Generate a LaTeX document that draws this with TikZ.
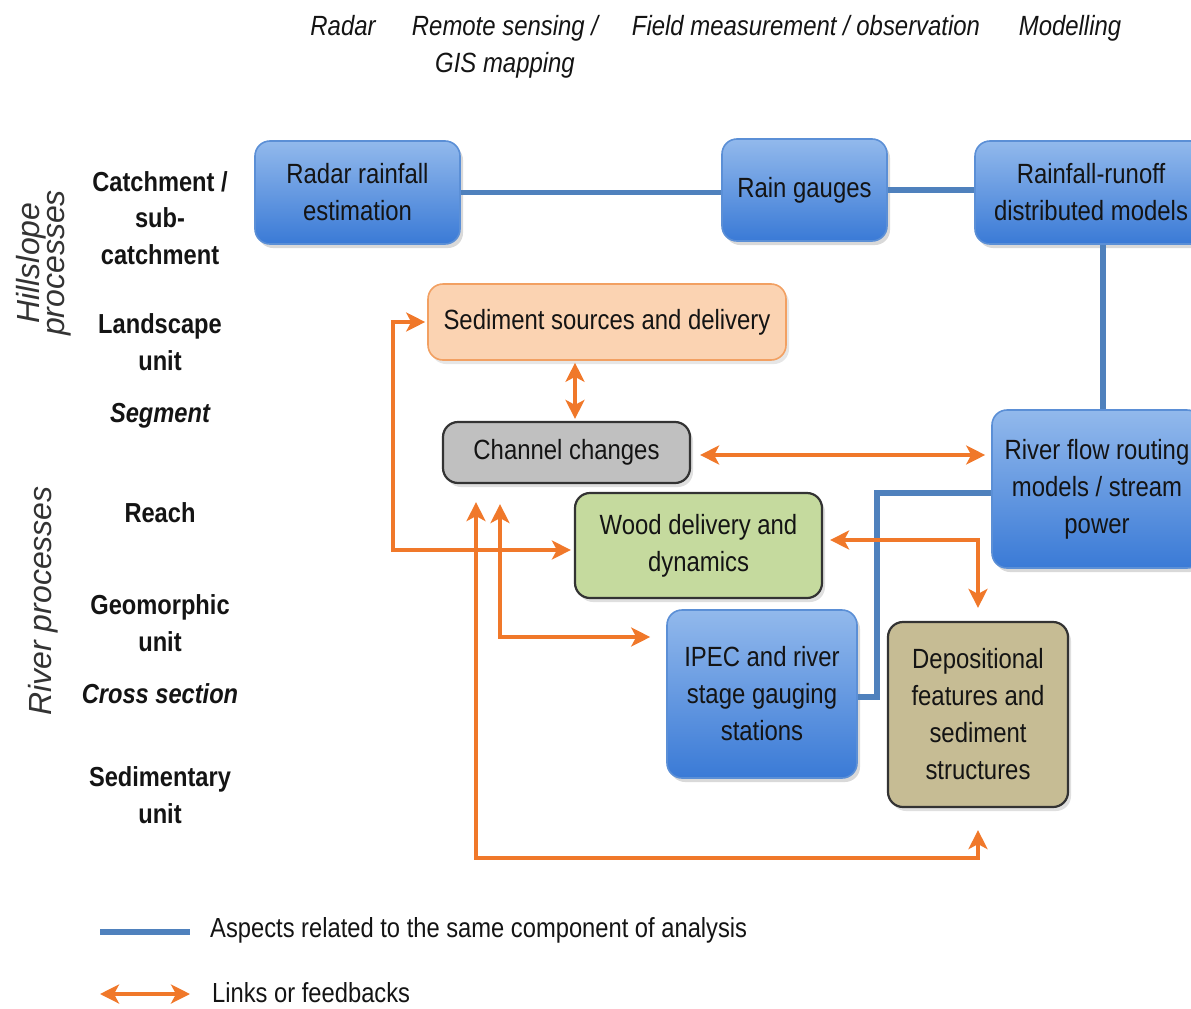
\documentclass[tikz,border=0pt]{standalone}
\usepackage{fontspec}
\setmainfont{Liberation Sans}[FakeStretch=0.86]
\newfontfamily\procfont{Liberation Sans}
\usetikzlibrary{arrows.meta,shadows}
\definecolor{bline}{HTML}{4F81BD}
\definecolor{oline}{HTML}{F0782A}
\definecolor{btop}{HTML}{92B9EC}
\definecolor{bbot}{HTML}{3A7AD6}
\definecolor{bdraw}{HTML}{5B8FD6}
\definecolor{sedfill}{HTML}{FBD3B2}
\definecolor{seddraw}{HTML}{F2A062}
\definecolor{chanfill}{HTML}{C0C0C0}
\definecolor{woodfill}{HTML}{C5DA9E}
\definecolor{depofill}{HTML}{C6BC94}
\definecolor{txt}{HTML}{141414}
\tikzset{
  boxtext/.style={align=center, font=\fontsize{27.8}{37}\selectfont, text=txt, rounded corners=15pt, line width=1.6pt},
  bluebox/.style={boxtext, draw=bdraw, top color=btop, bottom color=bbot,
     drop shadow={opacity=0.3, shadow xshift=3pt, shadow yshift=-4pt}},
  sedbox/.style={boxtext, draw=seddraw, fill=sedfill,
     drop shadow={opacity=0.2, shadow xshift=3pt, shadow yshift=-4pt}},
  darkbox/.style={boxtext, draw=black!80, line width=2.2pt,
     drop shadow={opacity=0.25, shadow xshift=3pt, shadow yshift=-4pt}},
  blink/.style={draw=bline, line width=5.5pt},
  olink/.style={draw=oline, line width=4.2pt, {Stealth[length=19pt,width=19pt,inset=5pt]}-{Stealth[length=19pt,width=19pt,inset=5pt]}},
  head/.style={font=\fontsize{27.8}{37}\selectfont\itshape, text=txt, align=center},
  lvl/.style={font=\fontsize{27.5}{36.5}\selectfont\bfseries, text=txt, align=center},
  lvli/.style={font=\fontsize{27.5}{36.5}\selectfont\bfseries\itshape, text=txt, align=center},
  proc/.style={font=\procfont\fontsize{32}{25}\selectfont\itshape, text=black!80, align=center, rotate=90},
  legtext/.style={font=\fontsize{27.6}{33}\selectfont, text=txt, anchor=west, inner sep=1pt},
}
\begin{document}
\begin{tikzpicture}[x=1pt,y=-1pt]
\useasboundingbox (0,0) rectangle (1191,1009);

% column headers
\node[head, anchor=base] (hradar) at (343,35) {Radar};
\node[head] (hrs) at (505,47) {Remote sensing /\\GIS mapping};
\node[head, anchor=base] (hfield) at (806,35) {Field measurement / observation};
\node[head, anchor=base] (hmod) at (1070,35) {Modelling};

% scale labels
\node[lvl] (lcatch) at (160,218) {Catchment /\\sub-\\catchment};
\node[lvl] (lland) at (160,342) {Landscape\\unit};
\node[lvli] (lseg) at (160,416) {Segment};
\node[lvl] (lreach) at (160,513) {Reach};
\node[lvl] (lgeo) at (160,623) {Geomorphic\\unit};
\node[lvli] (lcross) at (160,694) {Cross section};
\node[lvl] (lsed) at (160,795) {Sedimentary\\unit};

\node[proc] (phill) at (44,263) {Hillslope\\processes};
\node[proc] (priver) at (43,601) {River processes};

% boxes
\node[bluebox, minimum width=205pt, minimum height=103pt] (radar) at (357.5,192.5) {Radar rainfall\\estimation};
\node[bluebox, minimum width=165pt, minimum height=102pt] (gauges) at (804.5,190) {Rain gauges};
\node[bluebox, minimum width=232pt, minimum height=103pt] (runoff) at (1091,192.5) {Rainfall-runoff\\distributed models};
\node[sedbox, minimum width=358pt, minimum height=76pt] (sed) at (607,322) {Sediment sources and delivery};
\node[darkbox, fill=chanfill, minimum width=247pt, minimum height=61pt] (chan) at (566.5,452.5) {Channel changes};
\node[bluebox, minimum width=210pt, minimum height=158pt] (river) at (1097,489) {River flow routing\\models / stream\\power};
\node[darkbox, fill=woodfill, minimum width=247pt, minimum height=105pt] (wood) at (698.5,545.5) {Wood delivery and\\dynamics};
\node[bluebox, minimum width=190pt, minimum height=168pt] (ipec) at (762,694) {IPEC and river\\stage gauging\\stations};
\node[darkbox, fill=depofill, minimum width=180pt, minimum height=185pt] (depo) at (978,714.5) {Depositional\\features and\\sediment\\structures};

% blue connectors
\coordinate (b1) at (1103,0);
\coordinate (b2) at (877,493);
\coordinate (b3) at (877,697);
\draw[blink] (radar.east) -- (radar.east -| gauges.west);
\draw[blink] (gauges.east) -- (gauges.east -| runoff.west);
\draw[blink] (runoff.south -| b1) -- (river.north -| b1);
\draw[blink] (b2 -| river.west) -- (b2) -- (b3) -- (b3 -| ipec.east);

% orange connectors
\coordinate (o1) at (575,0);
\coordinate (o2) at (0,455);
\coordinate (o3) at (393,550);
\coordinate (o4) at (476,858);
\coordinate (o5) at (500,637);
\coordinate (o6) at (978,540);
\draw[olink, shorten <=2pt, shorten >=2pt] (sed.south -| o1) -- (chan.north -| o1);
\draw[olink, shorten <=9pt, shorten >=6pt] (o2 -| chan.east) -- (o2 -| river.west);
\draw[olink, shorten <=2pt, shorten >=3pt] (sed.west) -- (sed.west -| o3) -- (o3) -- (o3 -| wood.west);
\draw[olink, shorten <=18pt, shorten >=22pt] (chan.south -| o4) -- (o4) -- (o4 -| depo.south) -- (depo.south);
\draw[olink, shorten <=20pt, shorten >=16pt] (chan.south -| o5) -- (o5) -- (o5 -| ipec.west);
\draw[olink, shorten <=7pt, shorten >=13pt] (o6 -| wood.east) -- (o6) -- (depo.north);

% legend
\coordinate (la) at (100,932);
\coordinate (lb) at (190,932);
\coordinate (lc) at (100,994);
\coordinate (ld) at (190,994);
\draw[blink] (la) -- (lb);
\node[legtext] (leg1) at (209,930) {Aspects related to the same component of analysis};
\draw[olink] (lc) -- (ld);
\node[legtext] (leg2) at (211,993) {Links or feedbacks};
\end{tikzpicture}
\end{document}
